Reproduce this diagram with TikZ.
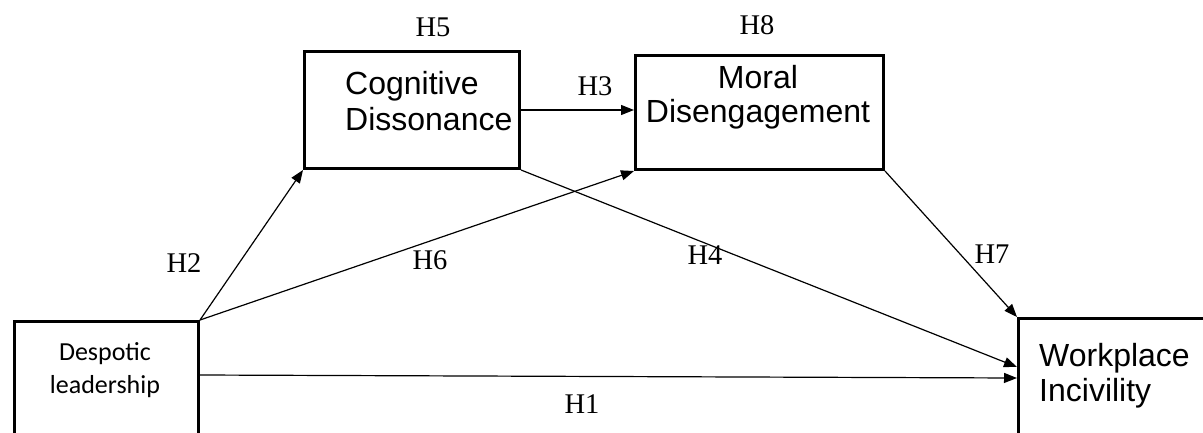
\documentclass[tikz,border=0pt]{standalone}
\usepackage{fontspec}
\setmainfont{Liberation Serif}
\newfontfamily\arialf{Liberation Sans}
\newfontfamily\calibf{Carlito}
\usetikzlibrary{arrows.meta,calc}
\begin{document}
\begin{tikzpicture}[x=1pt,y=-1pt,
  box/.style={draw,line width=3pt,inner sep=0pt,anchor=north west},
  conn/.style={line width=1.2pt,-{Triangle[length=13pt,width=10pt]}},
  hlab/.style={font=\fontsize{28.5}{30}\selectfont,inner sep=0pt},
  btxt/.style={font=\arialf\fontsize{32}{37}\selectfont,inner sep=0pt},
  stxt/.style={font=\calibf\fontsize{26}{32}\selectfont,inner sep=0pt},
]
\clip (0,0) rectangle (1203,432);
\fill[white] (0,0) rectangle (1203,432);
% boxes
\node[box,minimum width=184pt,minimum height=140pt] (desp) at (13,320) {};
\node[box,minimum width=215pt,minimum height=117pt] (cog) at (303,50) {};
\node[box,minimum width=248pt,minimum height=114pt] (moral) at (634,54) {};
\node[box,minimum width=220pt,minimum height=140pt] (work) at (1017,317) {};
% box texts
\node[stxt,anchor=base] (d1) at (105,360) {Despotic};
\node[stxt,anchor=base] (d2) at (105,393) {leadership};
\node[btxt,anchor=base west] (c1) at (345,94) {Cognitive};
\node[btxt,anchor=base west] (c2) at (345,130) {Dissonance};
\node[btxt,anchor=base] (m1) at (758,88) {Moral};
\node[btxt,anchor=base] (m2) at (758,122) {Disengagement};
\node[btxt,anchor=base west] (w1) at (1039,366) {Workplace};
\node[btxt,anchor=base west] (w2) at (1039,401) {Incivility};
% connectors
\draw[conn] (desp.north east) -- (cog.south west);
\draw[conn] (desp.north east) -- (moral.south west);
\draw[conn] (cog.east) -- (cog.east -| moral.west);
\draw[conn] (cog.south east) -- ($(work.north west)+(0,50)$);
\draw[conn] (moral.south east) -- (work.north west);
\draw[conn] ($(desp.north east)+(0,55)$) -- ($(work.north west)+(0,61)$);
% hypothesis labels
\node[hlab] (h5) at (433,27) {H5};
\node[hlab] (h8) at (757,25) {H8};
\node[hlab] (h3) at (595,86) {H3};
\node[hlab] (h2) at (184,263) {H2};
\node[hlab] (h6) at (430,260) {H6};
\node[hlab] (h4) at (705,255) {H4};
\node[hlab] (h7) at (992,254) {H7};
\node[hlab] (h1) at (582,404) {H1};
\end{tikzpicture}
\end{document}
